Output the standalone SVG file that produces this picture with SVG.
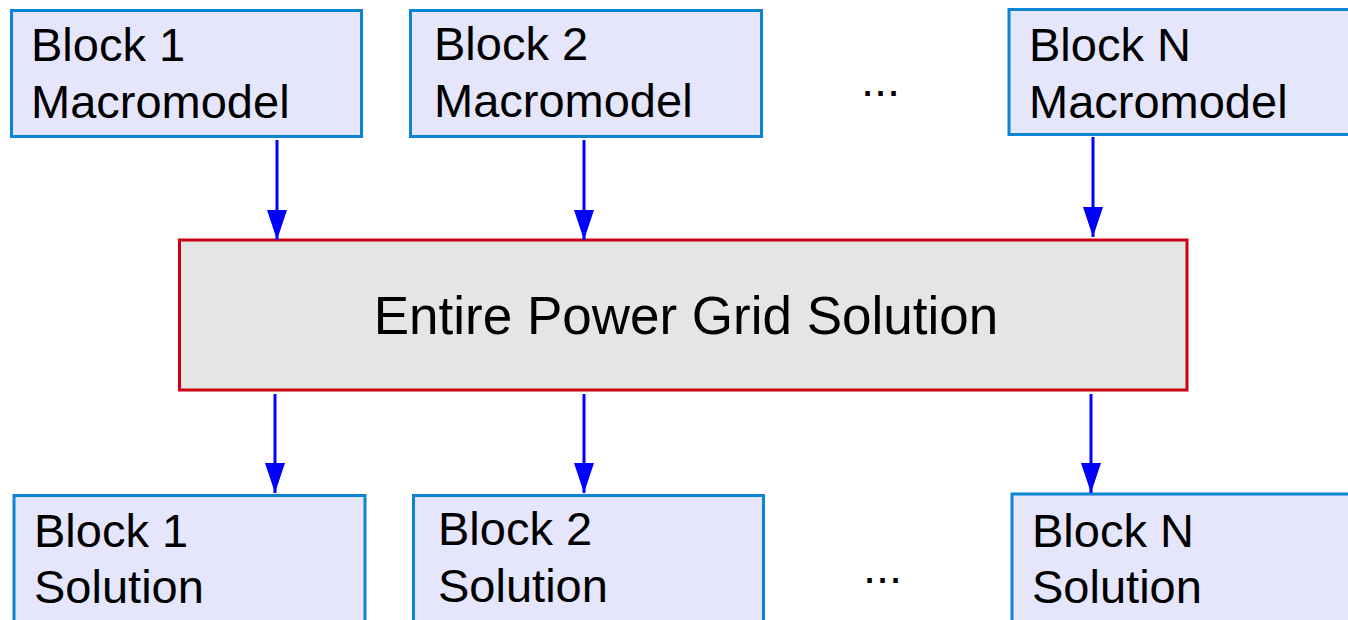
<svg xmlns="http://www.w3.org/2000/svg" width="1348" height="620" viewBox="0 0 1348 620">
<style>
.blk{fill:#e5e5fb;stroke:#0a85d6;stroke-width:3}
.main{fill:#e5e5e5;stroke:#cc0011;stroke-width:3}
.t{font-family:"Liberation Sans",Arial,sans-serif;font-size:47px;fill:#000}
.tm{font-family:"Liberation Sans",Arial,sans-serif;font-size:53px;fill:#000}
.c{stroke:#0000ff;stroke-width:3;fill:none;marker-end:url(#ah)}
</style>
<defs>
<marker id="ah" markerUnits="userSpaceOnUse" markerWidth="30" markerHeight="20" refX="30" refY="10" orient="auto" viewBox="0 0 30 20">
<path d="M0,0 L30,10 L0,20 Z" fill="#0000ff"/>
</marker>
</defs>
<g id="top1">
<rect class="blk" x="11.5" y="10.5" width="350" height="126"/>
<text class="t" x="31" y="61">Block 1</text>
<text class="t" x="31" y="118">Macromodel</text>
</g>
<g id="top2">
<rect class="blk" x="410.5" y="10.5" width="351" height="126"/>
<text class="t" x="434" y="60">Block 2</text>
<text class="t" x="434" y="117">Macromodel</text>
</g>
<g id="topN">
<rect class="blk" x="1009" y="9.5" width="345" height="125"/>
<text class="t" x="1029" y="61">Block N</text>
<text class="t" x="1029" y="118">Macromodel</text>
</g>
<g id="dotsTop"><text class="t" x="861" y="96">...</text></g>
<g id="main">
<rect class="main" x="179.5" y="240" width="1007.5" height="150"/>
<text class="tm" x="686" y="334" text-anchor="middle">Entire Power Grid Solution</text>
</g>
<g id="bot1">
<rect class="blk" x="14" y="495.5" width="351" height="140"/>
<text class="t" x="34" y="547">Block 1</text>
<text class="t" x="34" y="603">Solution</text>
</g>
<g id="bot2">
<rect class="blk" x="413.5" y="495.5" width="350" height="140"/>
<text class="t" x="438" y="545">Block 2</text>
<text class="t" x="438" y="602">Solution</text>
</g>
<g id="botN">
<rect class="blk" x="1012" y="494" width="345" height="140"/>
<text class="t" x="1032" y="547">Block N</text>
<text class="t" x="1032" y="603">Solution</text>
</g>
<g id="dotsBot"><text class="t" x="863" y="583">...</text></g>
<g id="connectors">
<line class="c" x1="277" y1="140" x2="277" y2="240"/>
<line class="c" x1="584" y1="140" x2="584" y2="240"/>
<line class="c" x1="1093" y1="137" x2="1093" y2="237"/>
<line class="c" x1="275" y1="394" x2="275" y2="493"/>
<line class="c" x1="584" y1="394" x2="584" y2="493"/>
<line class="c" x1="1091" y1="394" x2="1091" y2="493"/>
</g>
</svg>
